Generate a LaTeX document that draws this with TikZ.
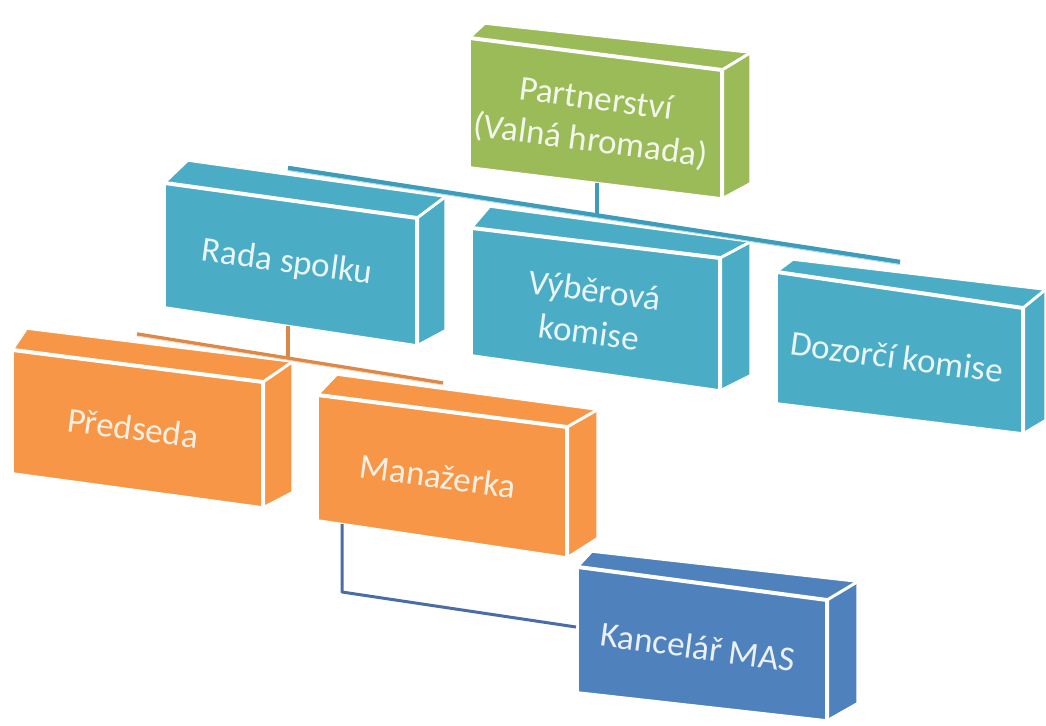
\documentclass[tikz,border=0pt]{standalone}
\usepackage{fontspec}
\setmainfont{Carlito}
\definecolor{cgreen}{HTML}{9BBB59}
\definecolor{cteal}{HTML}{4BACC6}
\definecolor{corange}{HTML}{F79646}
\definecolor{cblue}{HTML}{4F81BD}
\definecolor{lteal}{HTML}{3E9CBB}
\definecolor{lorange}{HTML}{DE8848}
\definecolor{lblue}{HTML}{4A6DA6}
\newcommand\drawblock[2]{%
  \fill[#2] (#1tl) -- (#1btl) -- (#1btr) -- (#1bbr) -- (#1br) -- (#1bl) -- cycle;
  \draw[faceline] (#1tl) -- (#1btl) -- (#1btr) -- (#1bbr) -- (#1br) -- (#1bl) -- cycle;
  \draw[frontedge] (#1tl) -- (#1tr) -- (#1br);
  \draw[sideedge] (#1tr) -- (#1btr);
}
\newcommand\slabel[4]{%
  \node[lbl, text=#2, rotate=-7.6] (#1) at (#3) {#4};}
\tikzset{
  faceline/.style={white, line width=1.5pt, line join=round},
  frontedge/.style={white, line width=4pt, line join=round, line cap=round},
  sideedge/.style={white, line width=3pt, line cap=round},
  lbl/.style={font=\fontsize{35}{42}\selectfont, align=center, inner sep=0pt},
  tealconn/.style={draw=lteal, line width=4.5pt},
  tealhl/.style={draw=white!55!cteal, line width=1pt},
  orangeconn/.style={draw=lorange, line width=3.5pt},
  orangehl/.style={draw=white!55!corange, line width=0.8pt},
  blueconn/.style={draw=lblue, line width=3pt, line join=round}
}
\begin{document}
\begin{tikzpicture}[x=1pt,y=-1pt]
\fill[white] (0,0) rectangle (1046,725);
\useasboundingbox (0,0) rectangle (1046,725);
% green block
\coordinate (gtl) at (470,38);  \coordinate (gtr) at (722,70);
\coordinate (gbr) at (722,198); \coordinate (gbl) at (470,167);
\coordinate (gbtl) at (485,24); \coordinate (gbtr) at (750,53); \coordinate (gbbr) at (750,183);
% Rada spolku
\coordinate (rtl) at (165,183);  \coordinate (rtr) at (417,218);
\coordinate (rbr) at (417,345);  \coordinate (rbl) at (165,307);
\coordinate (rbtl) at (188,161); \coordinate (rbtr) at (445,197); \coordinate (rbbr) at (445,330);
% Vyberova komise
\coordinate (vtl) at (472,228);  \coordinate (vtr) at (720,258);
\coordinate (vbr) at (720,390);  \coordinate (vbl) at (472,355);
\coordinate (vbtl) at (490,207); \coordinate (vbtr) at (750,242); \coordinate (vbbr) at (750,375);
% Dozorci komise
\coordinate (dtl) at (777,272);  \coordinate (dtr) at (1023,308);
\coordinate (dbr) at (1023,433); \coordinate (dbl) at (777,403);
\coordinate (dbtl) at (793,260); \coordinate (dbtr) at (1045,290); \coordinate (dbbr) at (1045,420);
% Predseda
\coordinate (ptl) at (13,350);   \coordinate (ptr) at (263,382);
\coordinate (pbr) at (263,507);  \coordinate (pbl) at (13,473);
\coordinate (pbtl) at (27,329);  \coordinate (pbtr) at (292,362); \coordinate (pbbr) at (292,492);
% Manazerka
\coordinate (mtl) at (318,395);  \coordinate (mtr) at (567,427);
\coordinate (mbr) at (567,557);  \coordinate (mbl) at (318,520);
\coordinate (mbtl) at (337,375); \coordinate (mbtr) at (597,410); \coordinate (mbbr) at (597,538);
% Kancelar MAS
\coordinate (ktl) at (578,567);  \coordinate (ktr) at (827,600);
\coordinate (kbr) at (827,720);  \coordinate (kbl) at (578,692);
\coordinate (kbtl) at (592,552); \coordinate (kbtr) at (857,582); \coordinate (kbbr) at (857,703);
% connector points
\coordinate (gbot) at (597,183);
\coordinate (tj) at (597,214);
\coordinate (tbarL) at (288,168);
\coordinate (tbarR) at (900,262);
\coordinate (tbarLh) at (288,170.5);
\coordinate (tbarRh) at (900,264.5);
\coordinate (rbot) at (288,326);
\coordinate (oj) at (288,357);
\coordinate (obarL) at (137,334);
\coordinate (obarR) at (443,383);
\coordinate (obarLh) at (137,336);
\coordinate (obarRh) at (443,385);
\coordinate (mbot) at (342,524);
\coordinate (bcorner) at (342,592);
\coordinate (kleft) at (576,627);

\drawblock{g}{cgreen}
\draw[tealconn] (gbot) -- (tj);
\drawblock{r}{cteal}
\drawblock{v}{cteal}
\drawblock{d}{cteal}
\draw[tealconn] (tbarL) -- (tbarR);
\draw[tealhl] (tbarLh) -- (tbarRh);

\drawblock{p}{corange}
\drawblock{m}{corange}
\draw[orangeconn] (rbot) -- (oj);
\draw[orangeconn] (obarL) -- (obarR);
\draw[orangehl] (obarLh) -- (obarRh);

\draw[blueconn] (mbot) -- (bcorner) -- (kleft);
\drawblock{k}{cblue}

\slabel{tg}{white!88!cgreen}{593,121}{Partnerství\\(Valná hromada)}
\slabel{tr}{white!88!cteal}{287,263}{Rada spolku}
\slabel{tv}{white!88!cteal}{592,311}{Výběrová\\komise}
\slabel{td}{white!88!cteal}{897,357}{Dozorčí komise}
\slabel{tp}{white!85!corange}{133,428}{Předseda}
\slabel{tm}{white!85!corange}{438,476}{Manažerka}
\slabel{tk}{white!88!cblue}{698,647}{Kancelář MAS}
\end{tikzpicture}
\end{document}
